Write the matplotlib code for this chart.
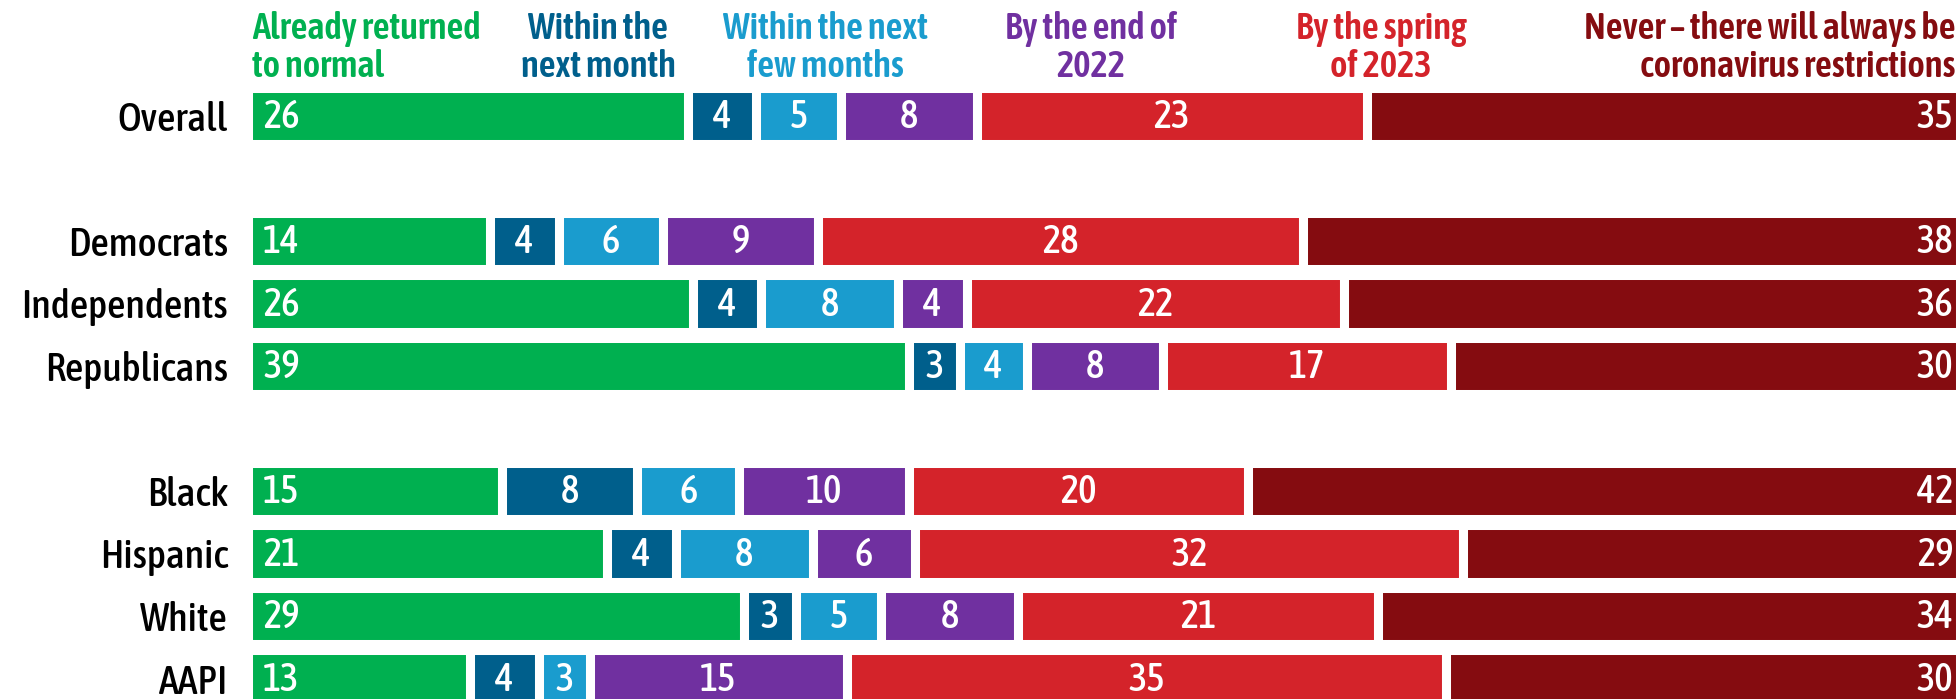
import matplotlib
import matplotlib.pyplot as plt
import numpy as np

matplotlib.use('Agg')

groups = ["Overall", "Democrats", "Independents", "Republicans",
          "Black", "Hispanic", "White", "AAPI"]
row_pos = [0, 2, 3, 4, 6, 7, 8, 9]

answers = ["Already returned\nto normal", "Within the\nnext month",
           "Within the next\nfew months", "By the end of\n2022",
           "By the spring\nof 2023", "Never \u2013 there will always be\ncoronavirus restrictions"]

already = [26, 14, 26, 39, 15, 21, 29, 13]
next_month = [4, 4, 4, 3, 8, 4, 3, 4]
few_months = [5, 6, 8, 4, 6, 8, 5, 3]
end_2022 = [8, 9, 4, 8, 10, 6, 8, 15]
spring_2023 = [23, 28, 22, 17, 20, 32, 21, 35]
never = [35, 38, 36, 30, 42, 29, 34, 30]

colors = ["#00b050", "#005f8c", "#1a9cce", "#7030a0", "#d4232a", "#850c10"]

plt.rcParams['font.family'] = ['Asap Condensed', 'DejaVu Sans']

W, H = 1960, 699
fig = plt.figure(figsize=(W / 100, H / 100), dpi=100)
left_px = 247.5
ax = fig.add_axes([left_px / W, 0, 1 - left_px / W, 1])

series = np.array([already, next_month, few_months, end_2022, spring_2023, never], dtype=float)
totals = series.sum(axis=0)
shares = series / totals * 100

row_px = 62.5
top_row_px = 116
ax.set_ylim((H - top_row_px) / row_px, -top_row_px / row_px)
ax.set_xlim(0, 100)

start = np.zeros(len(groups))
for i, (vals, col) in enumerate(zip(shares, colors)):
    ax.barh(row_pos, vals, left=start, height=0.9, color=col,
            edgecolor='white', linewidth=6.5)
    for y, s, w, raw in zip(row_pos, start, vals, series[i]):
        if i == 0:
            x, ha = s + 0.9, 'left'
        elif i == len(colors) - 1:
            x, ha = s + w - 0.4, 'right'
        else:
            x, ha = s + w / 2, 'center'
        ax.text(x, y + 0.02, f"{raw:.0f}", ha=ha, va='center',
                color='white', fontsize=28, fontweight='medium')
    start += vals

ax.set_yticks(row_pos)
ax.set_yticklabels(groups, fontsize=29, fontweight='medium')
ax.tick_params(axis='y', length=0, pad=14)
ax.set_xticks([])
for sp in ax.spines.values():
    sp.set_visible(False)

# column headers
head_x = [252, 598, 825, 1091, 1381, 1955]
head_ha = ['left', 'center', 'center', 'center', 'center', 'right']
for txt, x, ha, col in zip(answers, head_x, head_ha, colors):
    fig.text(x / W, 1 - 11 / H, txt, ha=ha, va='top', color=col,
             fontsize=26.5, fontweight='semibold', linespacing=1.07,
             multialignment=ha)

fig.savefig("out.png", dpi=100)
